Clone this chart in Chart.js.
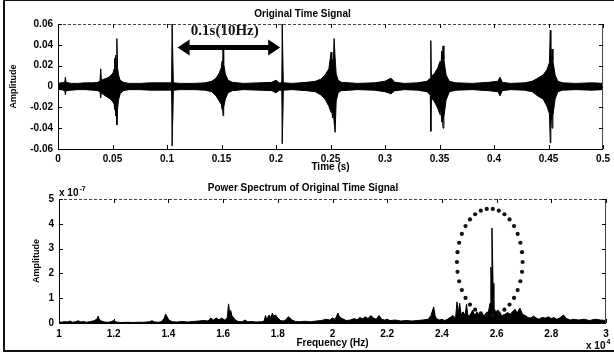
<!DOCTYPE html>
<html><head><meta charset="utf-8">
<script src="https://cdn.jsdelivr.net/npm/chart.js@4.4.0/dist/chart.umd.min.js"></script>
<style>
html,body{margin:0;padding:0;background:#fff;}
#wrap{position:relative;width:614px;height:358px;overflow:hidden;background:#fff;}
#c1{position:absolute;left:0;top:0;}
#c2{position:absolute;left:0;top:178px;}
.fl{position:absolute;background:#111;}
</style></head><body>
<div id="wrap">
<canvas id="c1" width="614" height="178"></canvas>
<canvas id="c2" width="614" height="180"></canvas>
<div class="fl" style="left:3px;top:0;width:2px;height:352px"></div>
<div class="fl" style="left:3px;top:0;width:611px;height:1px"></div>
<div class="fl" style="left:3px;top:350px;width:611px;height:2px"></div>
</div>
<script>
// ---- Original time signal: envelope (time in s, amplitude) ----
const tEnv = [
  0,0.003,0.0062,0.0068,0.0074,0.012,0.018,0.025,0.032,0.0365,
  0.0385,0.0392,0.0398,0.042,0.045,0.048,0.0505,0.0515,0.052,0.0524,
  0.0529,0.0534,0.054,0.0546,0.0555,0.057,0.06,0.065,0.075,0.085,
  0.095,0.1042,0.1047,0.1053,0.1058,0.112,0.125,0.135,0.141,0.145,
  0.148,0.1498,0.1505,0.1509,0.1514,0.152,0.1535,0.156,0.16,0.17,
  0.185,0.196,0.2,0.203,0.2053,0.2057,0.2063,0.2067,0.215,0.228,
  0.236,0.241,0.245,0.2485,0.2505,0.2512,0.2518,0.2525,0.2533,0.2542,
  0.2552,0.257,0.26,0.275,0.29,0.3,0.3055,0.309,0.318,0.33,
  0.3385,0.3415,0.342,0.3425,0.345,0.348,0.3505,0.3513,0.352,0.3526,
  0.3532,0.354,0.356,0.359,0.365,0.38,0.395,0.4035,0.4055,0.4075,
  0.415,0.428,0.435,0.44,0.445,0.4485,0.4508,0.4516,0.4521,0.4526,
  0.4532,0.454,0.456,0.4585,0.463,0.475,0.49,0.5];
const envHi = [
  0.003,0.0035,0.004,0.009,0.004,0.003,0.003,0.0035,0.0035,0.004,
  0.005,0.017,0.006,0.007,0.008,0.01,0.013,0.017,0.027,0.016,
  0.03,0.02,0.046,0.018,0.011,0.006,0.004,0.003,0.003,0.0035,
  0.0035,0.0035,0.06,0.06,0.0035,0.003,0.003,0.0035,0.005,0.008,
  0.013,0.018,0.024,0.017,0.035,0.022,0.012,0.006,0.004,0.003,
  0.0035,0.004,0.006,0.0035,0.0035,0.06,0.06,0.0035,0.003,0.004,
  0.005,0.007,0.011,0.017,0.033,0.02,0.026,0.02,0.046,0.028,
  0.012,0.006,0.004,0.003,0.0035,0.005,0.008,0.004,0.003,0.0035,
  0.005,0.008,0.044,0.01,0.012,0.017,0.024,0.019,0.034,0.026,
  0.039,0.026,0.011,0.005,0.0035,0.003,0.004,0.005,0.009,0.004,
  0.003,0.0035,0.005,0.008,0.011,0.016,0.023,0.054,0.028,0.022,
  0.036,0.025,0.011,0.005,0.0035,0.003,0.0035,0.003];
const envLo = [
  -0.003,-0.003,-0.004,-0.008,-0.004,-0.0035,-0.003,-0.003,-0.0035,-0.004,
  -0.005,-0.011,-0.006,-0.008,-0.01,-0.012,-0.015,-0.017,-0.022,-0.016,
  -0.028,-0.022,-0.037,-0.022,-0.013,-0.007,-0.004,-0.003,-0.003,-0.0035,
  -0.0035,-0.0035,-0.057,-0.057,-0.0035,-0.003,-0.003,-0.0035,-0.005,-0.009,
  -0.014,-0.017,-0.022,-0.019,-0.028,-0.02,-0.012,-0.006,-0.004,-0.003,
  -0.0035,-0.004,-0.006,-0.0035,-0.0035,-0.055,-0.055,-0.0035,-0.003,-0.004,
  -0.005,-0.008,-0.012,-0.019,-0.025,-0.022,-0.03,-0.024,-0.034,-0.044,
  -0.014,-0.006,-0.004,-0.003,-0.0035,-0.005,-0.007,-0.004,-0.003,-0.0035,
  -0.005,-0.008,-0.043,-0.011,-0.014,-0.02,-0.027,-0.022,-0.034,-0.03,
  -0.04,-0.029,-0.013,-0.005,-0.0035,-0.003,-0.004,-0.005,-0.009,-0.004,
  -0.003,-0.0035,-0.005,-0.009,-0.012,-0.019,-0.026,-0.054,-0.033,-0.026,
  -0.04,-0.028,-0.012,-0.005,-0.0035,-0.003,-0.0035,-0.003];
const timeTicks = [0,0.05,0.1,0.15,0.2,0.25,0.3,0.35,0.4,0.45,0.5];
const ampTicks = [-0.06,-0.04,-0.02,0,0.02,0.04,0.06];

// ---- Power spectrum (frequency x10^4 Hz, amplitude x10^-7) ----
const specFreq = [1.00,1.01,1.02,1.03,1.04,1.05,1.06,1.07,1.08,1.09,1.10,1.11,1.12,1.13,1.14,1.143,1.147,1.155,1.165,1.18,1.19,1.2,1.205,1.215,1.23,1.25,1.27,1.29,1.31,1.33,1.34,1.35,1.365,1.375,1.385,1.39,1.395,1.4,1.405,1.415,1.43,1.45,1.47,1.49,1.51,1.53,1.545,1.555,1.565,1.575,1.585,1.595,1.605,1.615,1.62,1.624,1.628,1.632,1.638,1.645,1.655,1.67,1.68,1.69,1.705,1.72,1.74,1.75,1.755,1.76,1.768,1.775,1.78,1.785,1.792,1.8,1.81,1.82,1.83,1.838,1.845,1.852,1.865,1.88,1.9,1.92,1.94,1.96,1.975,1.99,2.0,2.01,2.02,2.025,2.035,2.05,2.065,2.08,2.09,2.1,2.11,2.12,2.13,2.14,2.15,2.16,2.17,2.18,2.19,2.2,2.21,2.23,2.25,2.27,2.29,2.31,2.33,2.35,2.36,2.37,2.375,2.38,2.39,2.4,2.41,2.42,2.43,2.44,2.45,2.455,2.46,2.465,2.47,2.478,2.485,2.49,2.495,2.5,2.507,2.512,2.52,2.528,2.535,2.545,2.555,2.563,2.57,2.576,2.579,2.581,2.583,2.585,2.587,2.59,2.597,2.605,2.612,2.62,2.63,2.64,2.65,2.66,2.668,2.675,2.685,2.695,2.705,2.715,2.725,2.735,2.745,2.755,2.765,2.78,2.79,2.8,2.81,2.82,2.83,2.845,2.855,2.87,2.88,2.9,2.92,2.94,2.96,2.98,3.0];
const specAmp = [0.05,0.03,0.06,0.04,0.08,0.03,0.05,0.09,0.04,0.06,0.03,0.05,0.07,0.1,0.18,0.28,0.15,0.08,0.04,0.03,0.05,0.1,0.06,0.03,0.02,0.03,0.02,0.03,0.03,0.05,0.09,0.04,0.03,0.06,0.2,0.36,0.26,0.15,0.1,0.05,0.04,0.06,0.04,0.06,0.08,0.1,0.08,0.2,0.12,0.2,0.13,0.2,0.12,0.2,0.77,0.4,0.5,0.3,0.22,0.12,0.06,0.05,0.12,0.05,0.06,0.04,0.05,0.08,0.3,0.15,0.32,0.22,0.4,0.28,0.32,0.2,0.1,0.08,0.13,0.25,0.2,0.12,0.06,0.05,0.07,0.05,0.08,0.1,0.15,0.12,0.2,0.15,0.4,0.25,0.18,0.1,0.12,0.18,0.13,0.22,0.17,0.25,0.18,0.3,0.2,0.15,0.3,0.15,0.12,0.15,0.1,0.12,0.08,0.1,0.08,0.1,0.12,0.15,0.3,0.65,0.3,0.18,0.12,0.15,0.1,0.15,0.22,0.3,0.2,0.85,0.4,0.8,0.35,0.45,0.3,0.75,0.3,0.28,0.4,0.52,0.3,0.45,0.32,0.38,0.3,0.42,0.45,0.8,2.25,1.9,3.83,2.8,1.6,0.6,0.45,0.52,0.38,0.3,0.35,0.42,0.35,0.48,0.55,0.4,0.6,0.35,0.3,0.22,0.2,0.28,0.2,0.15,0.22,0.2,0.25,0.18,0.22,0.15,0.2,0.32,0.18,0.12,0.15,0.12,0.15,0.1,0.15,0.12,0.1];
const freqTicks = [1,1.2,1.4,1.6,1.8,2,2.2,2.4,2.6,2.8,3];
const specTicks = [0,1,2,3,4,5];

// ---- annotations (data units) ----
const arrowAnno = {t0:0.1097, t1:0.2038, y:0.0374, label:'0.1s(10Hz)', labelT:0.153, labelY:0.0528};
const ellipseAnno = {cx:2.575, cy:2.46, rx:0.12, ry:2.15, dots:34};

const F = '"Liberation Sans", Arial, sans-serif';
const tickFont = {family:F, size:10, weight:'bold'};

const boxPlugin = {
  id:'box',
  afterDatasetsDraw(chart){
    const {ctx, chartArea:a, scales:{x, y}} = chart;
    ctx.save();
    ctx.lineWidth = 1;
    ctx.strokeStyle = '#000';
    ctx.beginPath();
    ctx.moveTo(a.left+0.5, a.top); ctx.lineTo(a.left+0.5, a.bottom+0.5); ctx.lineTo(a.right, a.bottom+0.5);
    ctx.stroke();
    ctx.strokeStyle = '#444';
    ctx.setLineDash([3,2]);
    ctx.beginPath(); ctx.moveTo(a.left, a.top+0.5); ctx.lineTo(a.right, a.top+0.5); ctx.stroke();
    ctx.setLineDash([]);
    ctx.beginPath(); ctx.moveTo(a.right-0.5, a.top); ctx.lineTo(a.right-0.5, a.bottom+1); ctx.stroke();
    ctx.strokeStyle = '#000';
    ctx.beginPath();
    x.ticks.forEach(t => {
      const px = Math.round(x.getPixelForValue(t.value)) + 0.5;
      ctx.moveTo(px, a.bottom); ctx.lineTo(px, a.bottom-4);
      ctx.moveTo(px, a.top); ctx.lineTo(px, a.top+4);
    });
    y.ticks.forEach(t => {
      const py = Math.round(y.getPixelForValue(t.value)) + 0.5;
      ctx.moveTo(a.left, py); ctx.lineTo(a.left+4, py);
      ctx.moveTo(a.right, py); ctx.lineTo(a.right-4, py);
    });
    ctx.stroke();
    ctx.restore();
  }
};

const arrowPlugin = {
  id:'arrow',
  afterDatasetsDraw(chart){
    const {ctx, scales:{x, y}} = chart;
    const x0 = x.getPixelForValue(arrowAnno.t0), x1 = x.getPixelForValue(arrowAnno.t1);
    const py = y.getPixelForValue(arrowAnno.y);
    ctx.save();
    ctx.fillStyle = '#000';
    const hl = 12, hw = 8, bw = 2.5;
    ctx.beginPath();
    ctx.moveTo(x0, py);
    ctx.lineTo(x0+hl, py-hw); ctx.lineTo(x0+hl, py-bw);
    ctx.lineTo(x1-hl, py-bw); ctx.lineTo(x1-hl, py-hw);
    ctx.lineTo(x1, py);
    ctx.lineTo(x1-hl, py+hw); ctx.lineTo(x1-hl, py+bw);
    ctx.lineTo(x0+hl, py+bw); ctx.lineTo(x0+hl, py+hw);
    ctx.closePath(); ctx.fill();
    ctx.font = 'bold 15px "Liberation Serif", "Times New Roman", serif';
    ctx.textAlign = 'center'; ctx.textBaseline = 'middle';
    ctx.fillStyle = '#111';
    ctx.fillText(arrowAnno.label, x.getPixelForValue(arrowAnno.labelT), y.getPixelForValue(arrowAnno.labelY));
    ctx.restore();
  }
};

const specAnnoPlugin = {
  id:'specAnno',
  afterDatasetsDraw(chart){
    const {ctx, chartArea:a, scales:{x, y}} = chart;
    ctx.save();
    ctx.fillStyle = '#111';
    for (let i = 0; i < ellipseAnno.dots; i++) {
      const th = i / ellipseAnno.dots * Math.PI * 2;
      const px = x.getPixelForValue(ellipseAnno.cx + ellipseAnno.rx*Math.cos(th));
      const py = y.getPixelForValue(ellipseAnno.cy + ellipseAnno.ry*Math.sin(th));
      ctx.beginPath(); ctx.arc(px, py, 2.1, 0, Math.PI*2); ctx.fill();
    }
    ctx.fillStyle = '#000';
    ctx.textBaseline = 'alphabetic'; ctx.textAlign = 'left';
    ctx.font = 'bold 10px ' + F;
    ctx.fillText('x 10', a.left, a.top - 3);
    const w1 = ctx.measureText('x 10').width;
    ctx.font = 'bold 7px ' + F;
    ctx.fillText('-7', a.left + w1 + 1, a.top - 8);
    ctx.font = 'bold 10px ' + F;
    ctx.fillText('x 10', a.right - 20, a.bottom + 26);
    const w2 = ctx.measureText('x 10').width;
    ctx.font = 'bold 7px ' + F;
    ctx.fillText('4', a.right - 20 + w2 + 1, a.bottom + 21);
    ctx.restore();
  }
};

function fixedTicks(arr){ return s => { s.ticks = arr.map(v => ({value:v})); }; }

new Chart(document.getElementById('c1'), {
  type:'line',
  data:{datasets:[
    {data: tEnv.map((t,i)=>({x:t, y:envHi[i]})), borderColor:'#000', borderWidth:1, pointRadius:0, fill:'+1', backgroundColor:'#000', tension:0},
    {data: tEnv.map((t,i)=>({x:t, y:envLo[i]})), borderColor:'#000', borderWidth:1, pointRadius:0, fill:false, tension:0}
  ]},
  options:{
    responsive:false, animation:false, devicePixelRatio:1,
    layout:{padding:{left:0, right:9, top:0, bottom:0}},
    plugins:{
      legend:{display:false}, tooltip:{enabled:false},
      title:{display:true, text:'Original Time Signal', color:'#000', font:{family:F, size:10, weight:'bold'}, padding:{top:8, bottom:4}}
    },
    scales:{
      x:{type:'linear', min:0, max:0.5, grid:{display:false, drawTicks:false}, border:{display:false},
         afterBuildTicks: fixedTicks(timeTicks),
         ticks:{padding:4, color:'#000', font:tickFont, maxRotation:0, autoSkip:false, callback:v=>String(v)},
         title:{display:true, text:'Time (s)', color:'#000', font:{family:F, size:10, weight:'bold'}, padding:{top:0, bottom:5}},
         afterFit: s => { s.height = 29; }},
      y:{type:'linear', min:-0.06, max:0.06, grid:{display:false, drawTicks:false}, border:{display:false},
         afterBuildTicks: fixedTicks(ampTicks),
         ticks:{padding:5, color:'#000', font:tickFont, autoSkip:false, callback:v=>String(v)},
         title:{display:true, text:'Amplitude', color:'#000', font:{family:F, size:9, weight:'bold'}, padding:{top:8, bottom:0}},
         afterFit: s => { s.width = 58; }}
    }
  },
  plugins:[boxPlugin, arrowPlugin]
});

new Chart(document.getElementById('c2'), {
  type:'line',
  data:{datasets:[
    {data: specFreq.map((f,i)=>({x:f, y:specAmp[i]})), borderColor:'#000', borderWidth:1, pointRadius:0, fill:'origin', backgroundColor:'#000', tension:0}
  ]},
  options:{
    responsive:false, animation:false, devicePixelRatio:1,
    layout:{padding:{left:0, right:8, top:0, bottom:0}},
    plugins:{
      legend:{display:false}, tooltip:{enabled:false},
      title:{display:true, text:'Power Spectrum of Original Time Signal', color:'#000', font:{family:F, size:10, weight:'bold'}, padding:{top:4, bottom:5}}
    },
    scales:{
      x:{type:'linear', min:1, max:3, grid:{display:false, drawTicks:false}, border:{display:false},
         afterBuildTicks: fixedTicks(freqTicks),
         ticks:{padding:5, color:'#000', font:tickFont, maxRotation:0, autoSkip:false, callback:v=>String(v)},
         title:{display:true, text:'Frequency (Hz)', color:'#000', font:{family:F, size:10, weight:'bold'}, padding:{top:0, bottom:9}},
         afterFit: s => { s.height = 35; }},
      y:{type:'linear', min:0, max:5, grid:{display:false, drawTicks:false}, border:{display:false},
         afterBuildTicks: fixedTicks(specTicks),
         ticks:{padding:5, color:'#000', font:tickFont, autoSkip:false, callback:v=>String(v)},
         title:{display:true, text:'Amplitude', color:'#000', font:{family:F, size:9, weight:'bold'}, padding:{top:31, bottom:0}},
         afterFit: s => { s.width = 59; }}
    }
  },
  plugins:[boxPlugin, specAnnoPlugin]
});
</script>
</body></html>
